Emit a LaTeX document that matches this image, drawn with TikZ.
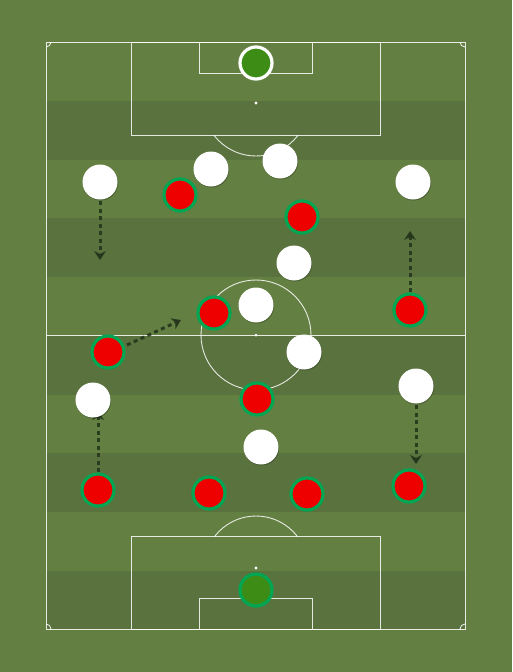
\documentclass[tikz,border=0pt]{standalone}
\usetikzlibrary{arrows.meta,shadows}
\definecolor{pitchlight}{HTML}{637F42}
\definecolor{pitchdark}{HTML}{59723E}
\definecolor{redp}{HTML}{EE0000}
\definecolor{greenb}{HTML}{00A651}
\definecolor{gkfill}{HTML}{3D8C15}
\definecolor{arrowc}{HTML}{26361C}
\begin{document}
\begin{tikzpicture}[x=1pt,y=-1pt,
  pline/.style={draw=white,draw opacity=0.85,line width=0.9pt},
  shad/.style={drop shadow={shadow xshift=0.6pt,shadow yshift=-1pt,opacity=0.25,fill=black}},
  wp/.style={circle,fill=white,minimum size=35pt,inner sep=0pt,shad},
  rp/.style={circle,fill=redp,draw=greenb,line width=3.2pt,minimum size=32pt,inner sep=0pt,shad},
  gktop/.style={circle,fill=gkfill,draw=white,line width=3.2pt,minimum size=32pt,inner sep=0pt,shad},
  gkbot/.style={circle,fill=gkfill,draw=greenb,line width=3.2pt,minimum size=32pt,inner sep=0pt,shad},
  mv/.style={draw=arrowc,draw opacity=0.9,line width=3pt,dash pattern=on 4pt off 3.5pt,-{Stealth[length=9pt,width=12pt,inset=3pt]}}]
\useasboundingbox (0,0) rectangle (512,672);
\fill[pitchlight] (0,0) rectangle (512,672);
\foreach \i in {0,...,4}
  \fill[pitchdark] (46,{101+117.4*\i}) rectangle (465,{159.7+117.4*\i});
% pitch lines
\draw[pline] (46,42) rectangle (465,629);
\draw[pline] (46,335) -- (465,335);
\draw[pline] (256,335) circle (55);
\fill[white] (256,335) circle (1.5);
\draw[pline] (131,42) rectangle (380,135);
\draw[pline] (199,42) rectangle (312,73);
\fill[white] (256,103) circle (1.6);
\draw[pline] (131,629) rectangle (380,536);
\draw[pline] (199,629) rectangle (312,598);
\fill[white] (256,568) circle (1.6);
\begin{scope}
  \clip (46,135) rectangle (465,220);
  \draw[pline] (256,103) circle (53);
\end{scope}
\begin{scope}
  \clip (46,460) rectangle (465,536);
  \draw[pline] (256,568) circle (52);
\end{scope}
\begin{scope}
  \clip (46,42) rectangle (465,629);
  \draw[pline] (46,42) circle (5);
  \draw[pline] (465,42) circle (5);
  \draw[pline] (46,629) circle (5);
  \draw[pline] (465,629) circle (5);
\end{scope}
% movement arrows
\coordinate (a1s) at (100,201);
\coordinate (a1e) at (100,260);
\coordinate (a2s) at (410,292);
\coordinate (a2e) at (410,231);
\coordinate (a3s) at (127,345);
\coordinate (a3e) at (181,320);
\coordinate (a4s) at (98,472);
\coordinate (a4e) at (98,411);
\coordinate (a5s) at (416,405);
\coordinate (a5e) at (416,464);
\draw[mv] (a1s) -- (a1e);
\draw[mv] (a2s) -- (a2e);
\draw[mv] (a3s) -- (a3e);
\draw[mv] (a4s) -- (a4e);
\draw[mv] (a5s) -- (a5e);
% goalkeepers
\node[gktop] (gk1) at (256,63) {};
\node[gkbot] (gk2) at (256,590) {};
% white team
\node[wp] (w1) at (100,182) {};
\node[wp] (w2) at (211,169) {};
\node[wp] (w3) at (280,161) {};
\node[wp] (w4) at (413,182) {};
\node[wp] (w5) at (294,263) {};
\node[wp] (w6) at (256,305) {};
\node[wp] (w7) at (304,352) {};
\node[wp] (w8) at (93,400) {};
\node[wp] (w9) at (416,386) {};
\node[wp] (w10) at (261,447) {};
% red team
\node[rp] (r1) at (180,195) {};
\node[rp] (r2) at (302,217) {};
\node[rp] (r3) at (214,313) {};
\node[rp] (r4) at (410,310) {};
\node[rp] (r5) at (108,352) {};
\node[rp] (r6) at (257,399) {};
\node[rp] (r7) at (98,490) {};
\node[rp] (r8) at (209,493) {};
\node[rp] (r9) at (307,494) {};
\node[rp] (r10) at (409,486) {};
\end{tikzpicture}
\end{document}
